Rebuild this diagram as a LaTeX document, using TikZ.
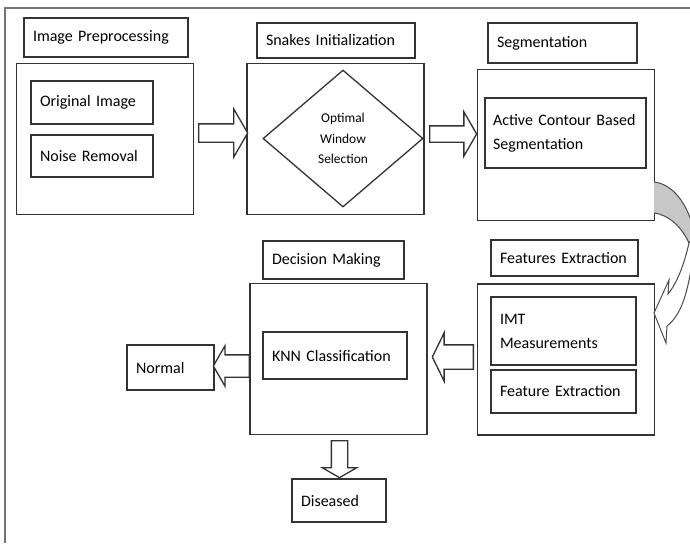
\documentclass[tikz,border=0pt]{standalone}
\usepackage{fontspec}
\setmainfont{Carlito}
\usetikzlibrary{shapes.geometric,shapes.arrows}

\tikzset{
  line/.style={draw=black!80, line width=1.3pt},
  % empty frame, width and height given
  stage/.style 2 args={line, minimum width=#1, minimum height=#2, inner sep=0pt},
  % framed text, left aligned
  tbox/.style 2 args={line, text width=#1, minimum height=#2, inner xsep=9pt,
    inner ysep=0pt, align=left},
  % hollow block arrow: length, half shaft, head extend
  barrow/.style n args={3}{single arrow, line, fill=white, anchor=tail,
    minimum height=#1, inner xsep=0pt, inner ysep=#2,
    single arrow head extend=#3, single arrow tip angle=120}
}

\begin{document}
\begin{tikzpicture}[x=1pt,y=-1pt,
  every node/.style={font=\fontsize{16}{24}\selectfont}]
  \useasboundingbox (0,0) rectangle (690,543);
  \clip (0,0) rectangle (690,543);

  % page frame
  \draw[black!55, line width=1.5pt] (5,543) -- (5,8) -- (690,8);

  % stage titles
  \foreach \n/\x/\y/\w/\h/\t in {
      tpre/106/37.5/146/39/Image Preprocessing,
      tsnk/336/40.5/140/35/Snakes Initialization,
      tseg/562.5/43/131/40/Segmentation,
      tfex/564.5/258/129/36/Features Extraction,
      tdec/333.5/260/123/38/Decision Making} {
    \node[tbox={\w}{\h}] (\n) at (\x,\y) {\t};
  }

  % stage frames
  \foreach \n/\x/\y in {pre/105/139, snk/335.5/139, seg/566/145,
      fex/566/359.5, dec/338.5/359} {
    \node[stage={177}{151}] (\n) at (\x,\y) {};
  }

  % inner steps
  \node[tbox={104}{43}] (orig) at (92,102.5) {Original Image};
  \node[tbox={104}{42}] (noise) at (92,156) {Noise Removal};
  \node[diamond, line, minimum width=160, minimum height=137, inner sep=0pt,
    align=center, font=\fontsize{13.4}{20.5}\selectfont] (win) at (343,138.5)
    {Optimal\\Window\\Selection};
  \node[tbox={145}{70}, inner xsep=8pt] (acs) at (565.5,133)
    {Active Contour Based\\Segmentation};
  \node[tbox={127}{68}] (imt) at (563.5,331) {IMT\\Measurements};
  \node[tbox={127}{43}] (fe) at (563.5,391.5) {Feature Extraction};
  \node[tbox={126}{47}] (knn) at (335,355.5) {KNN Classification};

  % outcomes
  \node[tbox={69}{45}] (normal) at (170.5,367.5) {Normal};
  \node[tbox={76}{43}] (dis) at (339,500.5) {Diseased};

  % block arrows between stages
  \node[barrow={49}{8.5}{15}] (a1) at (198,133) {};
  \node[barrow={47}{7.5}{14}] (a2) at (429,134) {};
  \node[barrow={41}{11.5}{12}, rotate=180, single arrow tip angle=128] (a3) at (474,357) {};
  \node[barrow={36}{10.5}{9}, rotate=180] (a4) at (250,366) {};
  \node[barrow={37}{7.5}{9}, rotate=-90] (a5) at (339.5,440) {};

  % curved arrow from segmentation down to feature extraction
  \draw[black!70, line width=1pt, fill=black!22]
    (654,182) .. controls (672,184) and (688,202) .. (695,235)
    -- (689,243) .. controls (682,228) and (670,215) .. (654,213);
  \draw[black!70, line width=1pt, fill=white]
    (689,243) .. controls (684,265) and (677,283) .. (668,294)
    -- (669,280) -- (654,313) -- (666,343) -- (667,326)
    .. controls (680,316) and (690,295) .. (695,235) -- cycle;
\end{tikzpicture}
\end{document}
